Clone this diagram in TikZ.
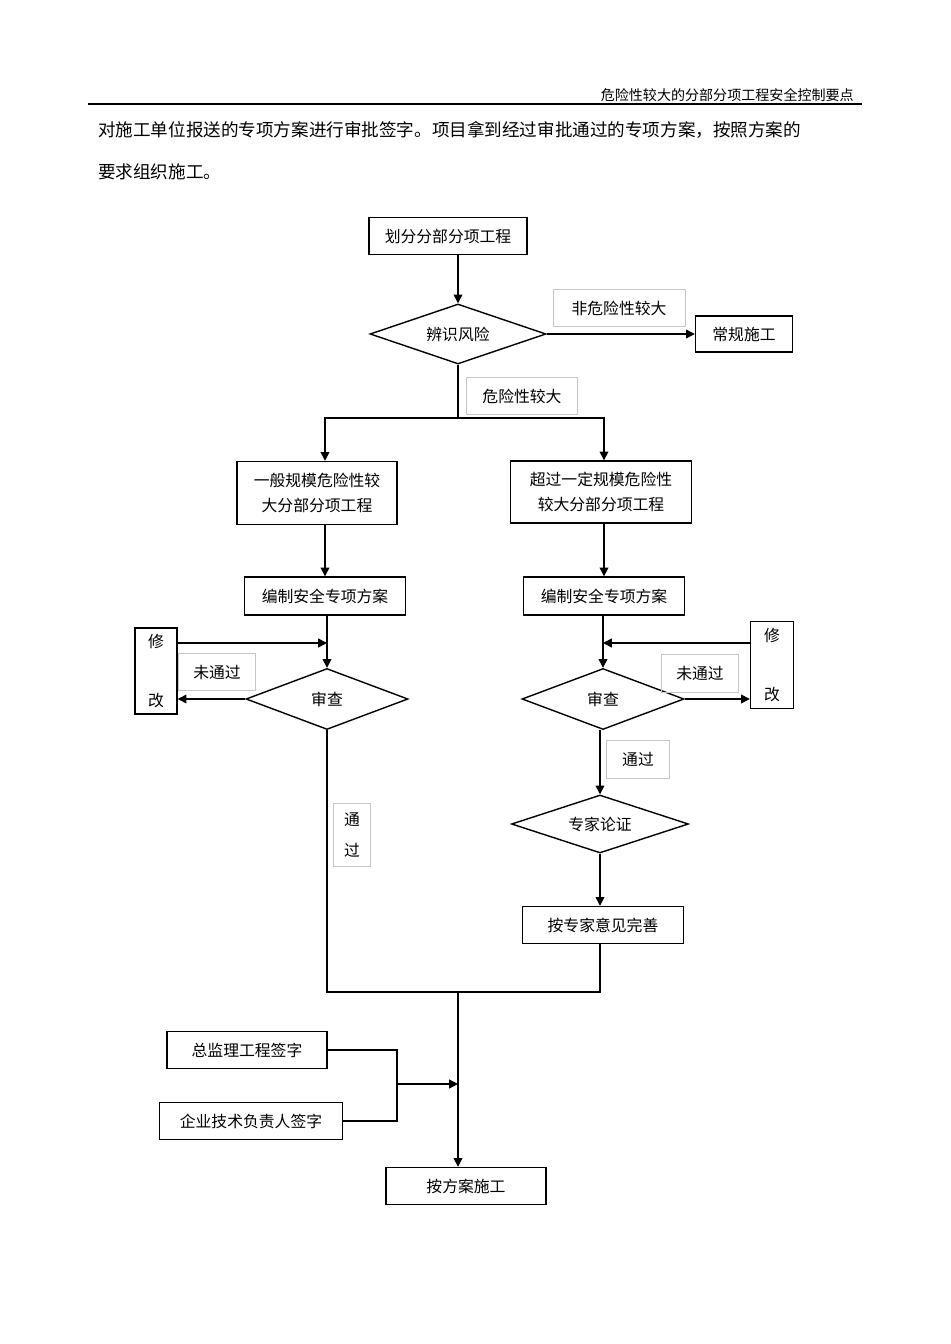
\documentclass[tikz,border=0pt]{standalone}
\usepackage{fontspec}
\setmainfont{Noto Sans CJK SC}
\usetikzlibrary{arrows.meta,shapes.geometric}
\tikzset{
  box/.style={draw,thick,inner sep=0pt,font=\fontsize{9}{14}\selectfont,align=center},
  dia/.style={draw,thick,diamond,aspect=2.9,inner sep=0pt,font=\fontsize{9}{11}\selectfont},
  tag/.style={draw=gray!45,thin,inner sep=0pt,font=\fontsize{9}{14}\selectfont,align=center},
  flow/.style={thick,-{Triangle[length=5pt,width=5pt]}},
  seg/.style={thick}
}
\begin{document}
\begin{tikzpicture}[x=0.02cm,y=-0.02cm]
  \useasboundingbox (0,0) rectangle (950,1344);
  % page header and text
  \node[anchor=base east,font=\fontsize{8}{10}\selectfont] (hd) at (860,101) {危险性较大的分部分项工程安全控制要点};
  \draw[line width=1.2pt] (88,104) -- (862,104);
  \node[anchor=base west,font=\fontsize{10}{12}\selectfont] (p1) at (92,137) {对施工单位报送的专项方案进行审批签字。项目拿到经过审批通过的专项方案，按照方案的};
  \node[anchor=base west,font=\fontsize{10}{12}\selectfont] (p2) at (92,179) {要求组织施工。};
  % nodes
  \node[box,minimum width=158*0.02cm,minimum height=37*0.02cm] (split) at (448,236) {划分分部分项工程};
  \node[dia,minimum width=176*0.02cm,minimum height=60*0.02cm] (risk) at (458,334) {辨识风险};
  \node[tag,minimum width=132*0.02cm,minimum height=37*0.02cm] (tnon) at (619,308) {非危险性较大};
  \node[box,minimum width=97*0.02cm,minimum height=36*0.02cm] (normal) at (744,334) {常规施工};
  \node[tag,minimum width=111*0.02cm,minimum height=37*0.02cm] (tdan) at (522,396) {危险性较大};
  \coordinate (fork) at (458,418);
  \node[box,minimum width=160*0.02cm,minimum height=63*0.02cm] (gen) at (317,493) {一般规模危险性较\\大分部分项工程};
  \node[box,minimum width=181*0.02cm,minimum height=62*0.02cm] (big) at (601,492) {超过一定规模危险性\\较大分部分项工程};
  \node[box,minimum width=161*0.02cm,minimum height=38*0.02cm] (planL) at (325,596) {编制安全专项方案};
  \node[box,minimum width=161*0.02cm,minimum height=38*0.02cm] (planR) at (604,596) {编制安全专项方案};
  \node[dia,minimum width=162*0.02cm,minimum height=61*0.02cm] (chkL) at (327,699) {审查};
  \node[dia,minimum width=162*0.02cm,minimum height=61*0.02cm] (chkR) at (603,699) {审查};
  \node[box,minimum width=42*0.02cm,minimum height=86*0.02cm] (fixL) at (156,671) {修\\[20pt]改};
  \node[box,minimum width=43*0.02cm,minimum height=87*0.02cm] (fixR) at (772,665) {修\\[20pt]改};
  \node[tag,minimum width=77*0.02cm,minimum height=37*0.02cm] (tnoL) at (217,672) {未通过};
  \node[tag,minimum width=77*0.02cm,minimum height=38*0.02cm] (tnoR) at (700,673) {未通过};
  \node[tag,minimum width=63*0.02cm,minimum height=38*0.02cm] (tokR) at (638,759) {通过};
  \node[tag,minimum width=37*0.02cm,minimum height=63*0.02cm] (tokL) at (352,835) {通\\[4pt]过};
  \node[dia,minimum width=177*0.02cm,minimum height=58*0.02cm] (expert) at (600,824) {专家论证};
  \node[box,minimum width=161*0.02cm,minimum height=37*0.02cm] (improve) at (603,925) {按专家意见完善};
  \coordinate (mL) at (327,992);
  \coordinate (mR) at (600,992);
  \coordinate (mC) at (458,992);
  \node[box,minimum width=160*0.02cm,minimum height=37*0.02cm] (sup) at (247,1050) {总监理工程签字};
  \node[box,minimum width=183*0.02cm,minimum height=37*0.02cm] (tech) at (251,1121) {企业技术负责人签字};
  \coordinate (jn) at (397,1084);
  \node[box,minimum width=160*0.02cm,minimum height=37*0.02cm] (build) at (466,1186) {按方案施工};
  % connectors
  \draw[flow] (split.south -| risk) -- (risk.north);
  \draw[flow] (risk.east) -- (normal.west);
  \draw[seg] (risk.south) -- (fork);
  \draw[flow] (fork) -| (gen.north -| planL);
  \draw[flow] (fork) -| (big.north -| planR);
  \draw[flow] (gen.south -| planL) -- (planL.north);
  \draw[flow] (big.south -| planR) -- (planR.north);
  \draw[flow] (planL.south -| chkL) -- (chkL.north);
  \draw[flow] (planR.south -| chkR) -- (chkR.north);
  \draw[flow] (fixL.east |- 0,643) -- (chkL.north |- 0,643);
  \draw[flow] (fixR.west |- 0,643) -- (chkR.north |- 0,643);
  \draw[flow] (chkL.west) -- (fixL.east |- chkL);
  \draw[flow] (chkR.east) -- (fixR.west |- chkR);
  \draw[flow] (chkR.south -| expert) -- (expert.north);
  \draw[flow] (expert.south) -- (improve.north -| expert);
  \draw[seg] (chkL.south) -- (mL) -- (mR) -- (improve.south -| mR);
  \draw[flow] (mC) -- (build.north -| mC);
  \draw[seg] (sup.east) -| (jn) |- (tech.east);
  \draw[flow] (jn) -- (jn -| mC);
\end{tikzpicture}
\end{document}
